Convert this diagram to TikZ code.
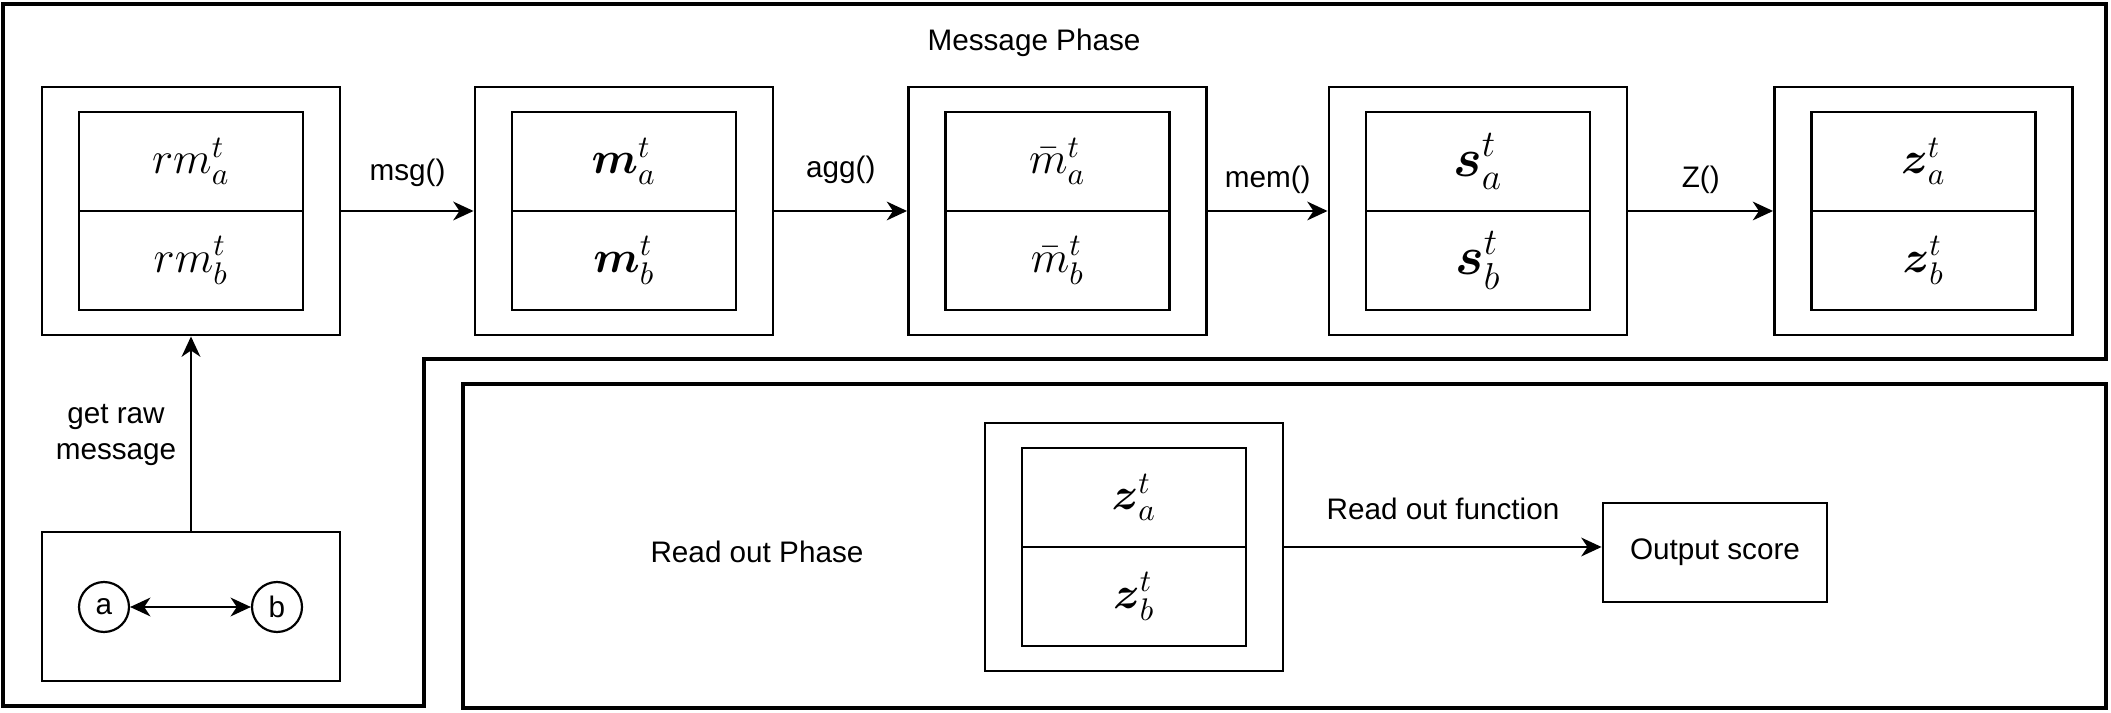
\documentclass[tikz,border=0pt]{standalone}
\usepackage{amsmath}
\usepackage{amssymb}
\usepackage{fontspec}
\setmainfont{Liberation Sans}
\usetikzlibrary{positioning}
\usetikzlibrary{arrows.meta}
% outer box with two stacked cells
\newcommand{\pairbox}[4]{%
  \node[outerbox] (#1) at (#2) {};
  \node[cellbox, anchor=south] (#1top) at (#1.center) {#3};
  \node[cellbox, anchor=north] (#1bot) at (#1.center) {#4};
}

\begin{document}
\begin{tikzpicture}[x=0.32pt, y=-0.32pt,
    every node/.style={font=\fontsize{9.5}{11.5}\selectfont},
    frame/.style={draw, line width=1pt},
    outerbox/.style={draw, line width=0.9pt, minimum width=95.4pt, minimum height=79.4pt, inner sep=0pt},
    cellbox/.style={draw, line width=0.9pt, outer sep=0pt, minimum width=71.7pt, minimum height=31.7pt, inner sep=0pt},
    flow/.style={-{Stealth[length=6.5pt,width=6pt,inset=2pt]}, line width=0.7pt}]
  \useasboundingbox (0,0) rectangle (2111,713);

  % phase frames
  \draw[frame] (3,4) -- (2106,4) -- (2106,359) -- (424,359) -- (424,706) -- (3,706) -- cycle;
  \draw[frame] (463,384) rectangle (2106,708);
  \node (msgphase) at (1034,43) {Message Phase};
  \node (readphase) at (757,552) {Read out Phase};

  % message phase
  \pairbox{raw}{191,211}{\Large $rm_a^t$}{\Large $rm_b^t$}
  \pairbox{msg}{624,211}{\Large $\boldsymbol{m}_a^t$}{\Large $\boldsymbol{m}_b^t$}
  \pairbox{agg}{1057.5,211}{\Large $\bar{m}_a^t$}{\Large $\bar{m}_b^t$}
  \pairbox{mem}{1478,211}{\LARGE $\boldsymbol{s}_a^t$}{\LARGE $\boldsymbol{s}_b^t$}
  \pairbox{emb}{1923.5,211}{\Large $\boldsymbol{z}_a^t$}{\Large $\boldsymbol{z}_b^t$}

  \draw[flow] (raw) -- node[above=4pt] {msg()} (msg);
  \draw[flow] (msg) -- node[above=5pt] {agg()} (agg);
  \draw[flow] (agg) -- node[above=2pt] {mem()} (mem);
  \draw[flow] (mem) -- node[above=2pt] {Z()} (emb);

  % raw interaction
  \node[draw, line width=0.9pt, minimum width=95.4pt, minimum height=47.7pt] (event) at (191,606.5) {};
  \node[draw, circle, line width=0.7pt, minimum size=16pt, inner sep=0pt] (na) at (104,607) {a};
  \node[draw, circle, line width=0.7pt, minimum size=16pt, inner sep=0pt] (nb) at (277,607) {b};
  \draw[{Stealth[length=6.5pt,width=6pt,inset=2pt]}-{Stealth[length=6.5pt,width=6pt,inset=2pt]}, line width=0.7pt] (na) -- (nb);
  \draw[flow] (event) -- (raw);
  \node[align=center] (rawlbl) at (116,435) {get raw\\message};

  % read out phase
  \pairbox{rd}{1134,547}{\Large $\boldsymbol{z}_a^t$}{\Large $\boldsymbol{z}_b^t$}
  \node[draw, line width=0.9pt, minimum width=71.7pt, minimum height=31.7pt] (score) at (1715,552.5) {Output score};
  \draw[flow] (rd) -- node[above=5pt] {Read out function} (rd -| score.west);
\end{tikzpicture}
\end{document}
